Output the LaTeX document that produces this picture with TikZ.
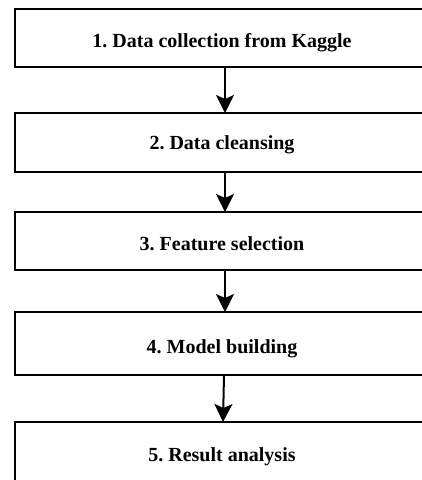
\documentclass[tikz,border=0pt]{standalone}
\usepackage{fontspec}
\setmainfont{Liberation Serif}
\frenchspacing
\usetikzlibrary{arrows.meta}
\begin{document}
\begin{tikzpicture}[x=1pt,y=-1pt,
  stagebox/.style={draw=black, line width=2pt, fill=white, minimum width=414pt,
    inner sep=0pt, outer sep=0pt, text height=18pt, text depth=0pt,
    font=\bfseries\fontsize{20}{24}\selectfont},
  flow/.style={line width=2pt, -{Stealth[length=18pt,width=18pt,inset=4pt]}}]
\useasboundingbox (0,0) rectangle (422,480);
\clip (0,0) rectangle (422,480);
\node[stagebox, minimum height=58pt] (b1) at (222,38) {1. Data collection from Kaggle};
\node[stagebox, minimum height=59pt, text height=13pt] (b2) at (222,142.5) {2. Data cleansing};
\node[stagebox, minimum height=58pt, text height=19pt] (b3) at (222,241) {3. Feature selection};
\node[stagebox, minimum height=63pt, text height=19pt] (b4) at (222,343.5) {4. Model building};
\node[stagebox, minimum height=66pt, text height=12pt] (b5) at (222,455) {5. Result analysis};
\draw[flow] ([xshift=3pt]b1.south) -- ([xshift=3pt]b2.north);
\draw[flow] ([xshift=3pt]b2.south) -- ([xshift=3pt]b3.north);
\draw[flow] ([xshift=3pt]b3.south) -- ([xshift=3pt]b4.north);
\draw[flow] ([xshift=2pt]b4.south) -- ([xshift=1pt]b5.north);
\end{tikzpicture}
\end{document}
